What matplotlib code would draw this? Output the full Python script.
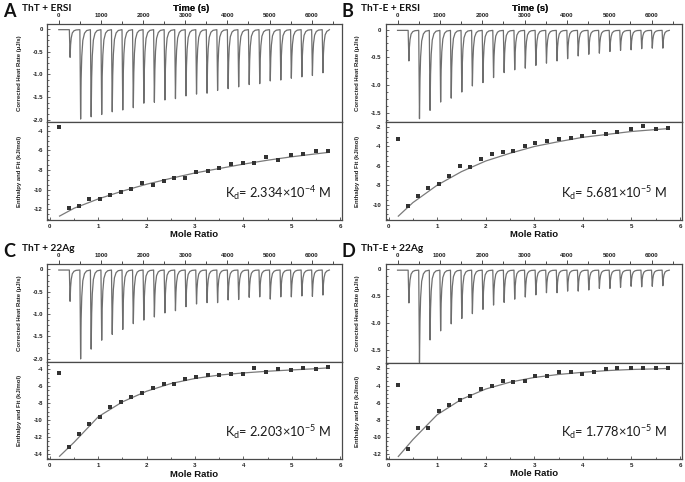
import numpy as np
import matplotlib
matplotlib.use("Agg")
import matplotlib.pyplot as plt
from matplotlib.ticker import MultipleLocator, FixedLocator, FormatStrFormatter

plt.rcParams['axes.unicode_minus'] = False
plt.rcParams['font.family'] = ['Liberation Sans', 'DejaVu Sans']

# ---------------- data ----------------
panel_letters = ['A', 'B', 'C', 'D']
panel_titles = ['ThT + ERSI', 'ThT-E + ERSI', 'ThT + 22Ag', 'ThT-E + 22Ag']
kd_values = ['2.334', '5.681', '2.203', '1.778']
kd_exponents = ['-4', '-5', '-5', '-5']

# injection times (s)
inj_times = [250, 500, 750, 1000, 1250, 1500, 1750, 2000, 2250, 2500, 2750, 3000, 3250,
             3500, 3750, 4000, 4250, 4500, 4750, 5000, 5250, 5500, 5750, 6000, 6250]

# peak heat rates (uJ/s) of each injection
peaks_A = [-0.61, -1.97, -1.92, -1.87, -1.81, -1.77, -1.72, -1.62, -1.60, -1.55, -1.52, -1.46, -1.42,
           -1.40, -1.34, -1.30, -1.26, -1.21, -1.19, -1.13, -1.11, -1.07, -1.04, -1.01, -0.95]
peaks_B = [-0.55, -1.59, -1.44, -1.29, -1.22, -1.11, -1.00, -0.94, -0.85, -0.76, -0.71, -0.68, -0.63,
           -0.59, -0.55, -0.51, -0.46, -0.43, -0.41, -0.38, -0.36, -0.35, -0.33, -0.32, -0.32]
peaks_C = [-0.70, -1.99, -1.77, -1.57, -1.44, -1.33, -1.20, -1.12, -1.05, -0.96, -0.91, -0.82, -0.76,
           -0.73, -0.73, -0.67, -0.66, -0.61, -0.60, -0.65, -0.60, -0.60, -0.58, -0.59, -0.56]
peaks_D = [-0.61, -1.72, -1.30, -1.13, -1.00, -0.90, -0.81, -0.73, -0.65, -0.60, -0.54, -0.50, -0.46,
           -0.42, -0.42, -0.39, -0.39, -0.37, -0.34, -0.34, -0.32, -0.30, -0.31, -0.30, -0.29]

# mole ratios of the integrated injections
mole_ratio = [0.19, 0.40, 0.61, 0.81, 1.03, 1.24, 1.46, 1.68, 1.90, 2.13, 2.35, 2.57, 2.80,
              3.02, 3.26, 3.50, 3.75, 3.99, 4.23, 4.47, 4.71, 4.98, 5.24, 5.50, 5.76]

# integrated enthalpies (kJ/mol)
enth_A = [-3.59, -11.90, -11.63, -10.98, -10.95, -10.54, -10.24, -9.90, -9.32, -9.53, -9.08, -8.81, -8.85,
          -8.17, -8.07, -7.83, -7.42, -7.32, -7.32, -6.68, -6.98, -6.51, -6.41, -6.03, -6.10]
enth_B = [-3.25, -10.17, -9.13, -8.26, -7.85, -7.05, -5.98, -6.08, -5.25, -4.80, -4.60, -4.49, -3.94,
          -3.63, -3.42, -3.21, -3.11, -2.87, -2.52, -2.69, -2.52, -2.17, -1.93, -2.17, -2.10]
enth_C = [-4.43, -13.14, -11.57, -10.47, -9.57, -8.51, -7.92, -7.22, -6.75, -6.27, -5.80, -5.76, -5.14,
          -4.98, -4.71, -4.71, -4.59, -4.63, -3.92, -4.39, -4.00, -4.08, -3.92, -4.00, -3.73]
enth_D = [-3.94, -11.34, -8.98, -8.98, -7.00, -6.22, -5.68, -5.22, -4.36, -4.05, -3.47, -3.63, -3.51,
          -2.93, -2.85, -2.43, -2.47, -2.62, -2.39, -2.12, -1.92, -2.00, -1.92, -1.92, -2.00]

# fitted curves read at these mole ratios
fit_x = [0.2, 0.5, 1.0, 1.5, 2.0, 2.5, 3.0, 3.5, 4.0, 4.5, 5.0, 5.5, 5.76]
fit_A = [-12.7, -11.9, -10.95, -10.15, -9.45, -8.85, -8.3, -7.85, -7.4, -7.0, -6.65, -6.35, -6.2]
fit_B = [-11.2, -9.8, -8.0, -6.6, -5.5, -4.7, -4.0, -3.5, -3.05, -2.75, -2.45, -2.25, -2.15]
fit_C = [-14.24, -12.6, -9.6, -7.85, -6.6, -5.7, -5.1, -4.7, -4.45, -4.25, -4.1, -3.95, -3.85]
fit_D = [-12.27, -10.3, -7.4, -5.6, -4.4, -3.6, -3.05, -2.7, -2.45, -2.25, -2.12, -2.05, -2.0]

peaks = [peaks_A, peaks_B, peaks_C, peaks_D]
enths = [enth_A, enth_B, enth_C, enth_D]
fits = [fit_A, fit_B, fit_C, fit_D]

top_yticks = [[0, -0.5, -1.0, -1.5, -2.0], [0, -0.5, -1.0, -1.5],
              [0, -0.5, -1.0, -1.5, -2.0], [0, -0.5, -1.0, -1.5]]
bot_yticks = [[-4, -6, -8, -10, -12], [-2, -4, -6, -8, -10],
              [-4, -6, -8, -10, -12, -14], [-2, -4, -6, -8, -10, -12]]
time_ticks = [0, 1000, 2000, 3000, 4000, 5000, 6000]
mole_ticks = [0, 1, 2, 3, 4, 5, 6]

# ---------------- layout (pixels) ----------------
W, H = 685, 482
boxes = [  # left, right, top, mid, bottom
    (47, 342, 24, 122, 220),
    (385.7, 682, 24, 122.3, 220),
    (47, 342, 264, 362.3, 459.3),
    (385.7, 682, 264, 363.3, 459.3),
]
top_ylims = [(-2.05, 0.11), (-1.67, 0.10), (-2.08, 0.12), (-1.75, 0.10)]
bot_ylims = [(-13.1, -3.1), (-11.6, -1.5), (-14.6, -3.2), (-12.6, -1.4)]

edge = '#4a4a4a'
trace_c = '#6e6e6e'
tick_fs = 4.4
lab_fs = 4.3

fig = plt.figure(figsize=(W / 100, H / 100), dpi=100)


def thermogram(times, pk, t_end=6420.0):
    rel = [0, 8, 18, 30, 45, 70, 110, 160]
    fac = [0, 0.5, 1.0, 0.55, 0.3, 0.12, 0.04, 0.01]
    t = [0.0]
    y = [-0.015]
    for ti, p in zip(times, pk):
        for r, f in zip(rel, fac):
            t.append(ti + r)
            y.append(-0.015 + f * p)
    t.append(t_end)
    y.append(-0.015)
    return np.array(t), np.array(y)


for i in range(4):
    l, r, tp, md, bt = boxes[i]
    axt = fig.add_axes([l / W, 1 - md / H, (r - l) / W, (md - tp) / H])
    axb = fig.add_axes([l / W, 1 - bt / H, (r - l) / W, (bt - md) / H])

    # ---- thermogram ----
    t, y = thermogram(inj_times, peaks[i])
    axt.plot(t, y, color=trace_c, lw=0.9)
    axt.set_xlim(-280, 6720)
    axt.set_ylim(*top_ylims[i])
    axt.xaxis.tick_top()
    axt.xaxis.set_major_locator(FixedLocator(time_ticks))
    axt.xaxis.set_minor_locator(MultipleLocator(500))
    axt.set_xticklabels([str(v) for v in time_ticks])
    axt.yaxis.set_major_locator(FixedLocator(top_yticks[i]))
    axt.set_yticklabels(['0' if v == 0 else '%.1f' % v for v in top_yticks[i]])
    axt.yaxis.set_minor_locator(MultipleLocator(0.125))
    axt.tick_params(axis='x', which='both', direction='out', top=True, bottom=False,
                    length=3, width=0.7, color=edge, labelsize=tick_fs, pad=1.2)
    axt.tick_params(axis='x', which='minor', length=2)
    axt.tick_params(axis='y', which='both', direction='in', left=True, right=False,
                    length=2.5, width=0.6, color=edge, labelsize=tick_fs, pad=3)
    axt.tick_params(axis='y', which='minor', length=1.5)
    for lab in axt.get_xticklabels() + axt.get_yticklabels():
        lab.set_fontweight('bold')
        lab.set_color('#222222')
    axt.set_ylabel('Corrected Heat Rate (µJ/s)', fontsize=lab_fs, fontweight='bold', color='#222222')
    axt.yaxis.set_label_coords(-0.086, 0.5)
    axt.text(0.487, 1 + (tp - 8.3) / (md - tp), 'Time (s)', transform=axt.transAxes,
             ha='center', va='center', fontsize=6.8, fontweight='bold', color='#111111')

    # ---- enthalpy + fit ----
    axb.plot(fit_x, fits[i], color='#7a7a7a', lw=0.9, zorder=2)
    axb.plot(mole_ratio, enths[i], ls='none', marker='s', ms=2.5, mew=0, color='#333333',
             zorder=3)
    axb.set_xlim(-0.06, 6.04)
    axb.set_ylim(*bot_ylims[i])
    axb.xaxis.set_major_locator(FixedLocator(mole_ticks))
    axb.xaxis.set_minor_locator(MultipleLocator(0.5))
    axb.yaxis.set_major_locator(FixedLocator(bot_yticks[i]))
    axb.yaxis.set_minor_locator(MultipleLocator(0.5))
    axb.yaxis.set_major_formatter(FormatStrFormatter('%d'))
    axb.tick_params(axis='both', which='both', direction='in', top=False, right=False,
                    length=2.5, width=0.6, color=edge, labelsize=tick_fs, pad=3)
    axb.tick_params(axis='both', which='minor', length=1.5)
    for lab in axb.get_xticklabels() + axb.get_yticklabels():
        lab.set_fontweight('bold')
        lab.set_color('#222222')
    axb.set_ylabel('Enthalpy and Fit (kJ/mol)', fontsize=lab_fs, fontweight='bold', color='#222222')
    axb.yaxis.set_label_coords(-0.086, 0.5)
    axb.text(0.5, -(235 - 220) / 98, 'Mole Ratio', transform=axb.transAxes,
             ha='center', va='center', fontsize=6.8, fontweight='bold', color='#111111')

    kx = 0.603 if i in (0, 2) else 0.592
    axb.text(kx, 0.28,
             'K$_{\\mathregular{d}}$= ' + kd_values[i] + '×10$^{\\mathregular{' + kd_exponents[i] + '}}$ M',
             transform=axb.transAxes, ha='left', va='center', fontsize=9.2,
             family=['Lato', 'DejaVu Sans'], color='#1a1a1a')

    for ax in (axt, axb):
        for s in ax.spines.values():
            s.set_color(edge)
            s.set_linewidth(0.9)

    # panel letters and titles
    fig.text((l - 44) / W, 1 - (tp - 12.5) / H, panel_letters[i], fontsize=13, fontweight='bold',
             family=['Lato', 'DejaVu Sans'], ha='left', va='center', color='#111111')
    fig.text((l - 25) / W, 1 - (tp - 15.5) / H, panel_titles[i], fontsize=7.3, fontweight='bold',
             family=['Lato', 'DejaVu Sans'], ha='left', va='center', color='#111111')

fig.savefig('out.png', dpi=100)
